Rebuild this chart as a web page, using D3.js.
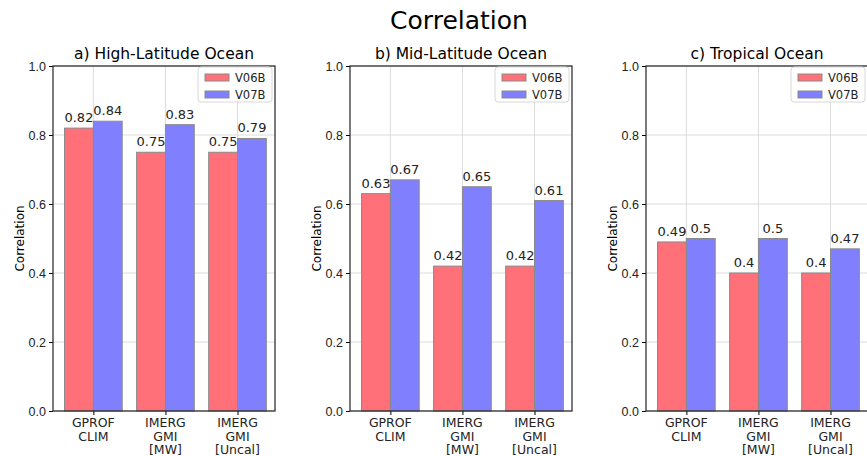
<!DOCTYPE html>
<html>
<head>
<meta charset="utf-8">
<script src="https://cdn.jsdelivr.net/npm/d3@7"></script>
<style>
  body { margin: 0; background: #fff; }
  svg { font-family: "DejaVu Sans", sans-serif; }
  .tick text { fill: #222; }
</style>
</head>
<body>
<div id="chart"></div>
<script>
// data
var categories = [["GPROF", "CLIM"], ["IMERG", "GMI", "[MW]"], ["IMERG", "GMI", "[Uncal]"]];
var panelTitles = ["a) High-Latitude Ocean", "b) Mid-Latitude Ocean", "c) Tropical Ocean"];
var seriesNames = ["V06B", "V07B"];
var v06b = [[0.82, 0.75, 0.75], [0.63, 0.42, 0.42], [0.49, 0.4, 0.4]];
var v07b = [[0.84, 0.83, 0.79], [0.67, 0.65, 0.61], [0.5, 0.5, 0.47]];
var yTicks = [0.0, 0.2, 0.4, 0.6, 0.8, 1.0];

var svgWidth = 867;
var svgHeight = 456;
var panelLefts = [53, 350, 646];
var panelWidth = 222;
var plotTop = 66, plotBottom = 411;
var colors = ["#ff7078", "#8080ff"];

var svg = d3.select("#chart")
  .append("svg")
  .attr("width", svgWidth)
  .attr("height", svgHeight);

// main title
svg.append("text")
  .attr("x", 459)
  .attr("y", 29)
  .attr("text-anchor", "middle")
  .style("font-size", "25px")
  .text("Correlation");

var x = d3.scaleLinear().domain([-0.56, 2.52]).range([0, panelWidth]);
var y = d3.scaleLinear().domain([0, 1]).range([plotBottom - plotTop, 0]);
var barW = x(0.4) - x(0);

panelTitles.forEach(function(title, p) {
  var g = svg.append("g")
    .attr("transform", `translate(${panelLefts[p]}, ${plotTop})`);

  // grid lines behind bars
  g.append("g").selectAll("line")
    .data(yTicks)
    .enter().append("line")
    .attr("x1", 0).attr("x2", panelWidth)
    .attr("y1", d => y(d)).attr("y2", d => y(d))
    .attr("stroke", "#dcdcdc").attr("stroke-width", 1);

  g.append("g").selectAll("line")
    .data(categories)
    .enter().append("line")
    .attr("x1", (d, i) => x(i)).attr("x2", (d, i) => x(i))
    .attr("y1", 0).attr("y2", y(0))
    .attr("stroke", "#dcdcdc").attr("stroke-width", 1);

  var series = [v06b[p], v07b[p]];

  series.forEach(function(vals, s) {
    var offset = s === 0 ? -0.4 : 0;

    g.append("g").selectAll("rect")
      .data(vals)
      .enter().append("rect")
      .attr("x", (d, i) => x(i + offset))
      .attr("y", d => y(d))
      .attr("width", barW)
      .attr("height", d => y(0) - y(d))
      .attr("fill", colors[s])
      .attr("stroke", "#8a8a8a")
      .attr("stroke-width", 1);

    // value labels
    g.append("g").selectAll("text")
      .data(vals)
      .enter().append("text")
      .attr("x", (d, i) => x(i + offset + 0.2))
      .attr("y", d => y(d) - 6)
      .attr("text-anchor", "middle")
      .style("font-size", "13px")
      .attr("fill", "#222")
      .text(d => String(d));
  });

  // axes
  var leftAxis = d3.axisLeft(y).tickValues(yTicks).tickFormat(d3.format(".1f")).tickSize(4).tickPadding(3);
  var yAxisG = g.append("g").call(leftAxis);
  yAxisG.select(".domain").remove();
  yAxisG.selectAll("text").style("font-size", "12.5px");

  var bottomAxis = d3.axisBottom(x).tickValues([0, 1, 2]).tickFormat("").tickSize(4);
  var xAxisG = g.append("g")
    .attr("transform", `translate(0, ${y(0)})`)
    .call(bottomAxis);
  xAxisG.select(".domain").remove();

  // multi-line category labels
  categories.forEach(function(lines, i) {
    var t = g.append("text")
      .attr("x", x(i))
      .attr("y", y(0) + 16)
      .attr("text-anchor", "middle")
      .style("font-size", "12.5px")
      .attr("fill", "#222");
    lines.forEach(function(line, k) {
      t.append("tspan")
        .attr("x", x(i))
        .attr("dy", k === 0 ? 0 : 13.5)
        .text(line);
    });
  });

  // frame
  g.append("rect")
    .attr("x", 0).attr("y", 0)
    .attr("width", panelWidth).attr("height", y(0))
    .attr("fill", "none")
    .attr("stroke", "#222")
    .attr("stroke-width", 1.2);

  // panel title
  g.append("text")
    .attr("x", panelWidth / 2)
    .attr("y", -7)
    .attr("text-anchor", "middle")
    .style("font-size", "15.5px")
    .text(title);

  // y label
  g.append("text")
    .attr("transform", "rotate(-90)")
    .attr("x", -y(0) / 2)
    .attr("y", -29)
    .attr("text-anchor", "middle")
    .style("font-size", "12px")
    .text("Correlation");

  // legend
  var lg = g.append("g").attr("transform", `translate(${panelWidth - 77}, 1)`);
  lg.append("rect")
    .attr("width", 74).attr("height", 35)
    .attr("rx", 3)
    .attr("fill", "#fff").attr("fill-opacity", 0.85)
    .attr("stroke", "#d8d8d8");
  seriesNames.forEach(function(name, s) {
    lg.append("rect")
      .attr("x", 7).attr("y", 7 + s * 17)
      .attr("width", 24).attr("height", 7)
      .attr("fill", colors[s])
      .attr("stroke", "#8a8a8a");
    lg.append("text")
      .attr("x", 37).attr("y", 15 + s * 17)
      .style("font-size", "11.5px")
      .attr("fill", "#222")
      .text(name);
  });
});
</script>
</body>
</html>
